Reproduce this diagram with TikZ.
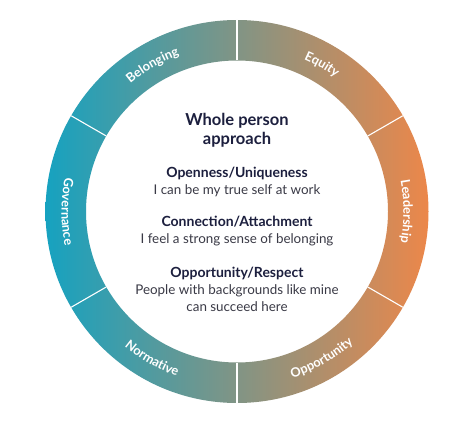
\documentclass[tikz,border=0pt]{standalone}
\usepackage{fontspec}
\setmainfont{Lato}
\usetikzlibrary{decorations.text}
\definecolor{ringteal}{RGB}{22,162,192}
\definecolor{ringorange}{RGB}{236,135,74}
\definecolor{headnavy}{RGB}{28,31,62}
\definecolor{bodygrey}{RGB}{58,58,70}
\tikzset{
  ringlabel/.style={decorate, decoration={text along path, text align=center,
      text color=white, text={|\bfseries\fontsize{12.8}{13}\selectfont|#1}}},
  midtext/.style={align=center, text=bodygrey, font=\fontsize{13.4}{17}\selectfont},
}
\begin{document}
\begin{tikzpicture}[x=1pt, y=1pt]
    \useasboundingbox (0,0) rectangle (474,424);
    \fill[white] (0,0) rectangle (474,424);
    \coordinate (c) at (237,212.5);
    % the ring, teal on the left and orange on the right
    \shade[left color=ringteal, right color=ringorange, even odd rule] (c) circle (191.5) (c) circle (151);
    \foreach \a in {30,90,...,330}
        \draw[white, line width=1.1pt] (c) ++(\a:151) -- ++(\a:40.5);
    % upper labels run clockwise, lower ones the other way round
    \path[ringlabel=Belonging] (c) ++(150:166.5) arc[start angle=150, end angle=90, radius=166.5];
    \path[ringlabel=Equity] (c) ++(90:166.5) arc[start angle=90, end angle=30, radius=166.5];
    \path[ringlabel=Leadership] (c) ++(30:166.5) arc[start angle=30, end angle=-30, radius=166.5];
    \path[ringlabel=Governance] (c) ++(150:175.5) arc[start angle=150, end angle=210, radius=175.5];
    \path[ringlabel=Normative] (c) ++(210:175.5) arc[start angle=210, end angle=270, radius=175.5];
    \path[ringlabel=Opportunity] (c) ++(270:175.5) arc[start angle=270, end angle=330, radius=175.5];
    \node[align=center, text=headnavy, font=\bfseries\fontsize{16.5}{19}\selectfont] (title) at (237,294) {Whole person\\approach};
    \node[midtext] (open) at (237,242) {{\bfseries\fontsize{14}{17}\selectfont\color{headnavy}Openness/Uniqueness}\\I can be my true self at work};
    \node[midtext] (conn) at (237,193) {{\bfseries\fontsize{14}{17}\selectfont\color{headnavy}Connection/Attachment}\\I feel a strong sense of belonging};
    \node[midtext] (oppo) at (237,135) {{\bfseries\fontsize{14}{17}\selectfont\color{headnavy}Opportunity/Respect}\\People with backgrounds like mine\\can succeed here};
\end{tikzpicture}
\end{document}
